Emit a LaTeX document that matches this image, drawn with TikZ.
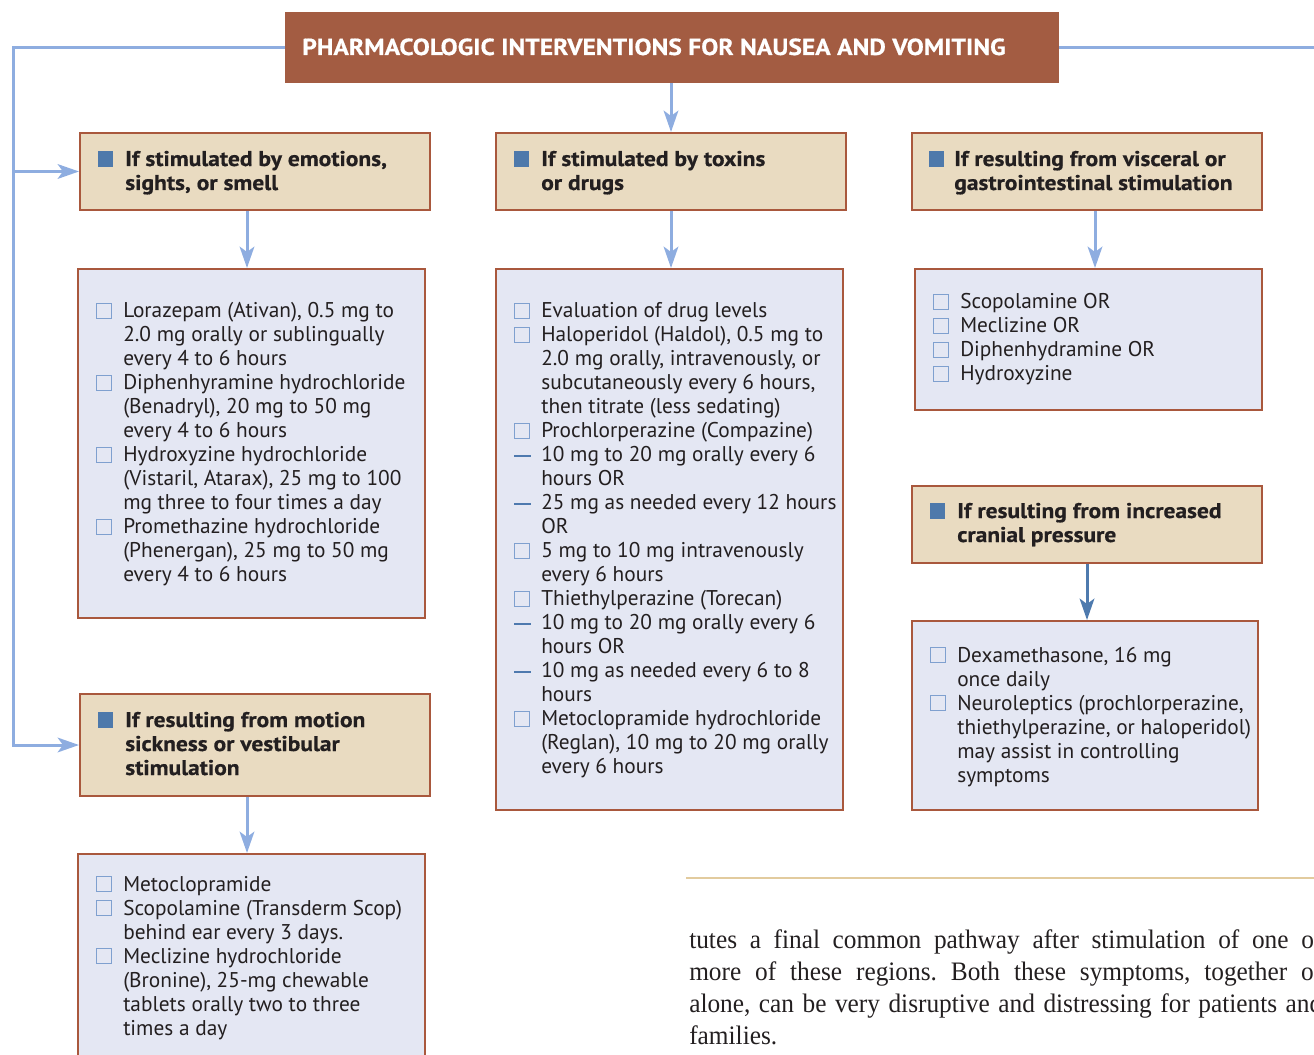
\documentclass[tikz,border=0pt]{standalone}
\usepackage{fontspec}
\setmainfont{PT Sans}
\newfontfamily\hdrfont[FakeStretch=1.1,FakeBold=0.6]{PT Sans Bold}
\newfontfamily\bodyserif[FakeStretch=0.95]{Liberation Serif}
\usetikzlibrary{arrows.meta,fit}
\definecolor{titlebrown}{HTML}{A35C42}
\definecolor{boxborder}{HTML}{A9583D}
\definecolor{hdrfill}{HTML}{E9DBC1}
\definecolor{contfill}{HTML}{E4E7F3}
\definecolor{connblue}{HTML}{8EADE0}
\definecolor{darkblue}{HTML}{4E7AAE}
\definecolor{sqblue}{HTML}{4E79AB}
\definecolor{cbcol}{HTML}{7FA0CF}
\definecolor{dashblue}{HTML}{4E79AE}
\definecolor{textdark}{HTML}{231F20}
\definecolor{rulecol}{HTML}{E2CB9E}
\newcommand\cbx{{\color{cbcol}\setlength\fboxrule{0.9pt}\setlength\fboxsep{0pt}\fbox{\rule{0pt}{10.2pt}\rule{10.2pt}{0pt}}}}
\newcommand\cbi{\makebox[20.25pt][l]{\cbx}}
\newcommand\cti{\hspace*{20.25pt}}
\newcommand\dsi{\makebox[20.25pt][l]{\textcolor{dashblue}{\rule[4pt]{12.75pt}{1pt}}}}
\newcommand\hsi{\makebox[20.25pt][l]{\textcolor{sqblue}{\rule[-0.75pt]{11.25pt}{12pt}}}}
\newcommand\jline[1]{\makebox[474.75pt][s]{#1}}
\frenchspacing
\begin{document}
\begin{tikzpicture}[x=0.75pt,y=-0.75pt,
  conn/.style={draw=connblue, line width=2.25pt},
  tip/.style={-{Stealth[length=16pt,width=11pt,inset=4pt]}},
  hbox/.style={draw=boxborder, fill=hdrfill, line width=1.5pt, inner sep=0pt},
  cbox/.style={draw=boxborder, fill=contfill, line width=1.5pt, inner sep=0pt},
  btxt/.style={anchor=base west, inner sep=0pt, text=textdark, font=\fontsize{16}{18}\selectfont},
  htxt/.style={anchor=base west, inner sep=0pt, text=textdark, font=\hdrfont\fontsize{16}{18}\selectfont},
  serif/.style={anchor=base west, inner sep=0pt, text=textdark, font=\bodyserif\fontsize{20}{24}\selectfont},
]
\useasboundingbox (0,0) rectangle (1314,1055);
\clip (0,0) rectangle (1314,1055);

% title
\node[fill=titlebrown, inner sep=0pt, fit={(285,12) (1059,83)}] (T) {};
\node[anchor=base west, inner sep=0pt, text=white, font=\hdrfont\fontsize{17.4}{20}\selectfont] (Tt) at (302,55) {PHARMACOLOGIC INTERVENTIONS FOR NAUSEA AND VOMITING};

% header boxes
\node[hbox, fit={(80,133) (430,210)}] (H1) {};
\node[hbox, fit={(496,133) (846,210)}] (H2) {};
\node[hbox, fit={(912,133) (1262,210)}] (H3) {};
\node[hbox, fit={(912,486) (1262,563)}] (H4) {};
\node[hbox, fit={(80,694) (430,796)}] (H5) {};

% content boxes
\node[cbox, fit={(78,269) (425,618)}] (C1) {};
\node[cbox, fit={(496,269) (843,810)}] (C2) {};
\node[cbox, fit={(915,269) (1262,410)}] (C3) {};
\node[cbox, fit={(912,621) (1258,810)}] (C4) {};
\node[cbox, fit={(78,854) (425,1070)}] (C5) {};

% header texts
\node[htxt] (H1t) at (98,166) {\begin{tabular}[t]{@{}l@{}}\hsi If stimulated by emotions,\\ \cti sights, or smell\end{tabular}};
\node[htxt] (H2t) at (514,166) {\begin{tabular}[t]{@{}l@{}}\hsi If stimulated by toxins\\ \cti or drugs\end{tabular}};
\node[htxt] (H3t) at (929,166) {\begin{tabular}[t]{@{}l@{}}\makebox[18.75pt][l]{\textcolor{sqblue}{\rule[-0.75pt]{11.25pt}{12pt}}}If resulting from visceral or\\ \hspace*{18.75pt}gastrointestinal stimulation\end{tabular}};
\node[htxt] (H4t) at (930,518) {\begin{tabular}[t]{@{}l@{}}\hsi If resulting from increased\\ \cti cranial pressure\end{tabular}};
\node[htxt] (H5t) at (98,727) {\begin{tabular}[t]{@{}l@{}}\hsi If resulting from motion\\ \cti sickness or vestibular\\ \cti stimulation\end{tabular}};

% content texts
\node[btxt] (C1t) at (96,318) {\begin{tabular}[t]{@{}l@{}}
\cbi Lorazepam (Ativan), 0.5 mg to\\
\cti 2.0 mg orally or sublingually\\
\cti every 4 to 6 hours\\
\cbi Diphenhyramine hydrochloride\\
\cti (Benadryl), 20 mg to 50 mg\\
\cti every 4 to 6 hours\\
\cbi Hydroxyzine hydrochloride\\
\cti (Vistaril, Atarax), 25 mg to 100\\
\cti mg three to four times a day\\
\cbi Promethazine hydrochloride\\
\cti (Phenergan), 25 mg to 50 mg\\
\cti every 4 to 6 hours
\end{tabular}};

\node[btxt] (C2t) at (514,318) {\begin{tabular}[t]{@{}l@{}}
\cbi Evaluation of drug levels\\
\cbi Haloperidol (Haldol), 0.5 mg to\\
\cti 2.0 mg orally, intravenously, or\\
\cti subcutaneously every 6 hours,\\
\cti then titrate (less sedating)\\
\cbi Prochlorperazine (Compazine)\\
\dsi 10 mg to 20 mg orally every 6\\
\cti hours OR\\
\dsi 25 mg as needed every 12 hours\\
\cti OR\\
\cbi 5 mg to 10 mg intravenously\\
\cti every 6 hours\\
\cbi Thiethylperazine (Torecan)\\
\dsi 10 mg to 20 mg orally every 6\\
\cti hours OR\\
\dsi 10 mg as needed every 6 to 8\\
\cti hours\\
\cbi Metoclopramide hydrochloride\\
\cti (Reglan), 10 mg to 20 mg orally\\
\cti every 6 hours
\end{tabular}};

\node[btxt] (C3t) at (933,309) {\begin{tabular}[t]{@{}l@{}}
\cbi Scopolamine OR\\
\cbi Meclizine OR\\
\cbi Diphenhydramine OR\\
\cbi Hydroxyzine
\end{tabular}};

\node[btxt] (C4t) at (930,662) {\begin{tabular}[t]{@{}l@{}}
\cbi Dexamethasone, 16 mg\\
\cti once daily\\
\cbi Neuroleptics (prochlorperazine,\\
\cti thiethylperazine, or haloperidol)\\
\cti may assist in controlling\\
\cti symptoms
\end{tabular}};

\node[btxt] (C5t) at (96,891) {\begin{tabular}[t]{@{}l@{}}
\cbi Metoclopramide\\
\cbi Scopolamine (Transderm Scop)\\
\cti behind ear every 3 days.\\
\cbi Meclizine hydrochloride\\
\cti (Bronine), 25-mg chewable\\
\cti tablets orally two to three\\
\cti times a day
\end{tabular}};

% connectors
\coordinate (lx) at (13,0);
\coordinate (re) at (1314,47.5);
\coordinate (a1) at (247,0);
\coordinate (a2) at (671,0);
\coordinate (a3) at (1095,0);
\coordinate (a4) at (1087,0);
\draw[conn, tip] (T.west) -- (T.west -| lx) -- (H5.west -| lx) -- (H5.west);
\draw[conn, tip] (H1.west -| lx) -- (H1.west);
\draw[conn] (T.east) -- (re);
\draw[conn, tip] (T.south -| a2) -- (H2.north -| a2);
\draw[conn, tip] (H1.south -| a1) -- (C1.north -| a1);
\draw[conn, tip] (H2.south -| a2) -- (C2.north -| a2);
\draw[conn, tip] (H3.south -| a3) -- (C3.north -| a3);
\draw[conn, tip, draw=darkblue] (H4.south -| a4) -- (C4.north -| a4);
\draw[conn, tip] (H5.south -| a1) -- (C5.north -| a1);

% rule and running text
\coordinate (r1) at (686,878);
\coordinate (r2) at (1314,878);
\draw[rulecol, line width=1.8pt] (r1) -- (r2);
\node[serif] (p1) at (689,948) {\jline{tutes a final common pathway after stimulation of one or}};
\node[serif] (p2) at (689,980) {\jline{more of these regions. Both these symptoms, together or}};
\node[serif] (p3) at (689,1012) {\jline{alone, can be very disruptive and distressing for patients and}};
\node[serif] (p4) at (689,1044) {families.};
\end{tikzpicture}
\end{document}
